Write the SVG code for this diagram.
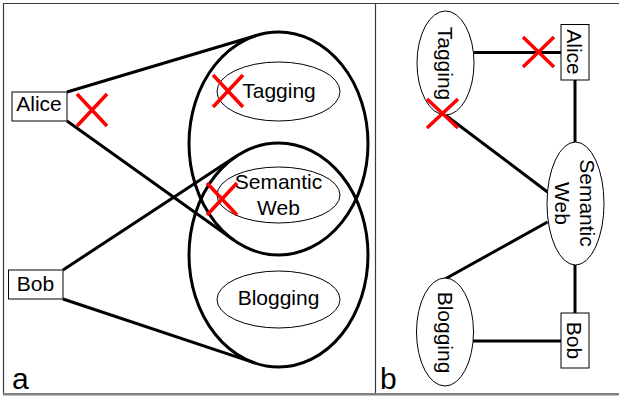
<svg xmlns="http://www.w3.org/2000/svg" width="619" height="396" viewBox="0 0 619 396">
  <style>
    .frame { stroke: #3a3a3a; stroke-width: 1.2; fill: none; }
    .base { stroke: #7f7f7f; stroke-width: 2.5; fill: none; }
    .big { fill: none; stroke: #000; stroke-width: 3; }
    .node { fill: #fff; stroke: #000; stroke-width: 1; }
    .hollow { fill: none; stroke: #000; stroke-width: 1; }
    .link { stroke: #000; stroke-width: 3; fill: none; }
    .cross { stroke: #ff0000; stroke-width: 3.5; fill: none; }
    text { font-family: "Liberation Sans", Arial, sans-serif; font-size: 21px; fill: #000; text-anchor: middle; }
    .panel { font-size: 30px; text-anchor: start; }
  </style>

  <!-- frame -->
  <g id="frame">
    <line class="frame" x1="3" y1="3.5" x2="619" y2="3.5"/>
    <line class="frame" x1="3.5" y1="3" x2="3.5" y2="394"/>
    <line class="frame" x1="375.5" y1="3" x2="375.5" y2="394"/>
    <line class="base" x1="3" y1="394.2" x2="619" y2="394.2"/>
  </g>

  <!-- panel a: connectors -->
  <g id="connectors-a">
    <line class="link" x1="67" y1="92" x2="257.6" y2="35.1"/>
    <line class="link" x1="67" y1="121" x2="234" y2="240.2"/>
    <line class="link" x1="63" y1="270" x2="236.9" y2="155.8"/>
    <line class="link" x1="63" y1="299" x2="255.4" y2="363.2"/>
  </g>

  <!-- panel a: user groups -->
  <g id="group-alice">
    <ellipse class="big" cx="278.5" cy="143.5" rx="89.5" ry="111.5"/>
  </g>
  <g id="group-bob">
    <ellipse class="big" cx="278.5" cy="255" rx="89.5" ry="112"/>
  </g>

  <!-- panel a: nodes -->
  <g id="a-alice">
    <rect class="node" x="12" y="92" width="55" height="29"/>
    <text x="39" y="111">Alice</text>
  </g>
  <g id="a-bob">
    <rect class="node" x="8.5" y="270" width="54.5" height="29"/>
    <text x="35.5" y="291">Bob</text>
  </g>
  <g id="a-tagging">
    <ellipse class="hollow" cx="278.5" cy="91.5" rx="61.5" ry="29.5"/>
    <text x="279" y="98">Tagging</text>
  </g>
  <g id="a-semweb">
    <ellipse class="hollow" cx="278.5" cy="195" rx="61.5" ry="28"/>
    <text x="278.5" y="189">Semantic</text>
    <text x="278.5" y="215">Web</text>
  </g>
  <g id="a-blogging">
    <ellipse class="hollow" cx="278.5" cy="299.5" rx="61.5" ry="28.5"/>
    <text x="278.5" y="305">Blogging</text>
  </g>

  <!-- panel a: crosses -->
  <g id="crosses-a">
    <path class="cross" d="M77,94 L107,126 M107,94 L77,126"/>
    <path class="cross" d="M213,75 L243,107 M243,75 L213,107"/>
    <path class="cross" d="M207,183 L237,215 M237,183 L207,215"/>
  </g>

  <text class="panel" x="12" y="389">a</text>

  <!-- panel b: connectors -->
  <g id="connectors-b">
    <line class="link" x1="474" y1="52.5" x2="561" y2="52.5"/>
    <line class="link" x1="575" y1="80" x2="575" y2="142"/>
    <line class="link" x1="575" y1="265" x2="575" y2="313"/>
    <line class="link" x1="440" y1="111" x2="547.5" y2="192"/>
    <line class="link" x1="547.5" y1="222" x2="445" y2="279"/>
    <line class="link" x1="473" y1="341" x2="561" y2="341"/>
  </g>

  <!-- panel b: nodes -->
  <g id="b-tagging">
    <ellipse class="node" cx="445.5" cy="63" rx="28.5" ry="52"/>
    <text transform="translate(438,63.5) rotate(90)">Tagging</text>
  </g>
  <g id="b-alice">
    <rect class="node" x="561" y="24.5" width="28" height="55.5"/>
    <text transform="translate(567,52) rotate(90)">Alice</text>
  </g>
  <g id="b-semweb">
    <ellipse class="node" cx="575.5" cy="203.5" rx="28.5" ry="61.5"/>
    <text transform="translate(580,203) rotate(90)">Semantic</text>
    <text transform="translate(555,203.5) rotate(90)">Web</text>
  </g>
  <g id="b-blogging">
    <ellipse class="node" cx="445" cy="332" rx="28.5" ry="54"/>
    <text transform="translate(438,332.5) rotate(90)">Blogging</text>
  </g>
  <g id="b-bob">
    <rect class="node" x="561" y="313" width="28" height="55"/>
    <text transform="translate(567,340.5) rotate(90)">Bob</text>
  </g>

  <!-- panel b: crosses -->
  <g id="crosses-b">
    <path class="cross" d="M523,37 L554,67 M554,37 L523,67"/>
    <path class="cross" d="M427,99 L458,128 M458,99 L427,128"/>
  </g>

  <text class="panel" x="380" y="389">b</text>
</svg>
